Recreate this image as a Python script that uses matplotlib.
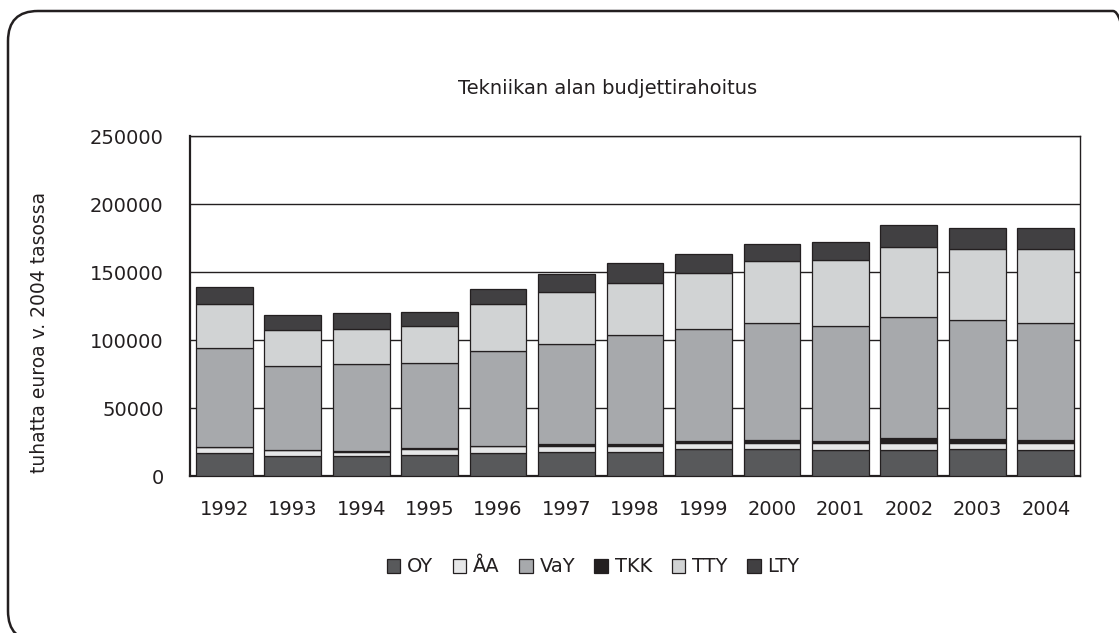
import matplotlib.pyplot as plt
import numpy as np
from matplotlib.patches import FancyBboxPatch, Patch
from matplotlib.transforms import IdentityTransform

plt.rcParams['font.family'] = ['DejaVu Sans']

years = ['1992', '1993', '1994', '1995', '1996', '1997', '1998',
         '1999', '2000', '2001', '2002', '2003', '2004']
oy = [16600, 14600, 14600, 15100, 16600, 17300, 17300, 19700, 20000, 19000, 19000, 19700, 19000]
aa = [4400, 4200, 3000, 4400, 5300, 4400, 4900, 4200, 4600, 5100, 5600, 4900, 4900]
tkk = [300, 300, 600, 1200, 500, 1700, 1000, 1800, 1800, 1600, 3000, 2800, 2800]
vay = [72800, 61900, 64000, 62200, 69800, 73900, 80700, 82600, 86300, 84500, 89400, 87200, 86000]
tty = [32700, 26300, 26100, 27300, 34600, 38000, 38000, 40900, 45300, 48800, 51700, 52200, 54100]
lty = [12200, 11000, 11200, 10500, 11000, 13400, 14400, 13700, 12700, 12700, 16100, 15600, 15600]

colors = {'OY': '#58595b', 'ÅA': '#e6e7e8', 'VaY': '#a7a9ac',
          'TKK': '#231f20', 'TTY': '#d1d3d4', 'LTY': '#414042'}
# stacking order (bottom to top) differs from legend order
stack = [('OY', oy), ('ÅA', aa), ('TKK', tkk), ('VaY', vay), ('TTY', tty), ('LTY', lty)]
legend_order = ['OY', 'ÅA', 'VaY', 'TKK', 'TTY', 'LTY']

fig = plt.figure(figsize=(11.19, 6.33), dpi=100)
ax = fig.add_axes([190/1119, 1-476/633, 890/1119, 340/633])

x = np.arange(len(years))
bottom = np.zeros(len(years))
for name, vals in stack:
    ax.bar(x, vals, 0.83, bottom=bottom, color=colors[name], edgecolor='#231f20',
           linewidth=0.9, zorder=3)
    bottom += np.array(vals)

ax.set_xlim(-0.5, len(years) - 0.5)
ax.set_ylim(0, 250000)
ax.set_yticks(range(0, 250001, 50000))
ax.set_yticklabels([str(v) for v in range(0, 250001, 50000)])
ax.set_xticks(x)
ax.set_xticklabels(years)
ax.tick_params(length=0, labelsize=14, colors='#231f20')
ax.tick_params(axis='y', pad=19)
ax.tick_params(axis='x', pad=17)
ax.yaxis.grid(True, color='#231f20', linewidth=1.0, zorder=0)
ax.set_axisbelow(True)
for s in ax.spines.values():
    s.set_color('#231f20')
    s.set_linewidth(1.0)
ax.spines['left'].set_linewidth(1.6)
ax.spines['bottom'].set_linewidth(1.6)

fig.text(608/1119, 1-88/633, 'Tekniikan alan budjettirahoitus', ha='center', va='center',
         fontsize=14, color='#231f20')
fig.text(40/1119, 1-332/633, 'tuhatta euroa v. 2004 tasossa', ha='center', va='center',
         rotation=90, fontsize=13.5, color='#231f20')

handles = [Patch(facecolor=colors[n], edgecolor='#231f20', linewidth=0.9, label=n)
           for n in legend_order]
fig.legend(handles=handles, loc='center', bbox_to_anchor=(593/1119, 1-567/633), ncol=6,
           frameon=False, fontsize=14, handlelength=0.7, handleheight=0.7,
           handletextpad=0.35, columnspacing=1.0, labelcolor='#231f20')

frame = FancyBboxPatch((8, -8), 1135, 630, boxstyle='round,pad=0,rounding_size=30',
                       transform=IdentityTransform(), facecolor='none',
                       edgecolor='#231f20', linewidth=1.8, clip_on=False)
fig.patches.append(frame)

fig.savefig('out.png', dpi=100)
